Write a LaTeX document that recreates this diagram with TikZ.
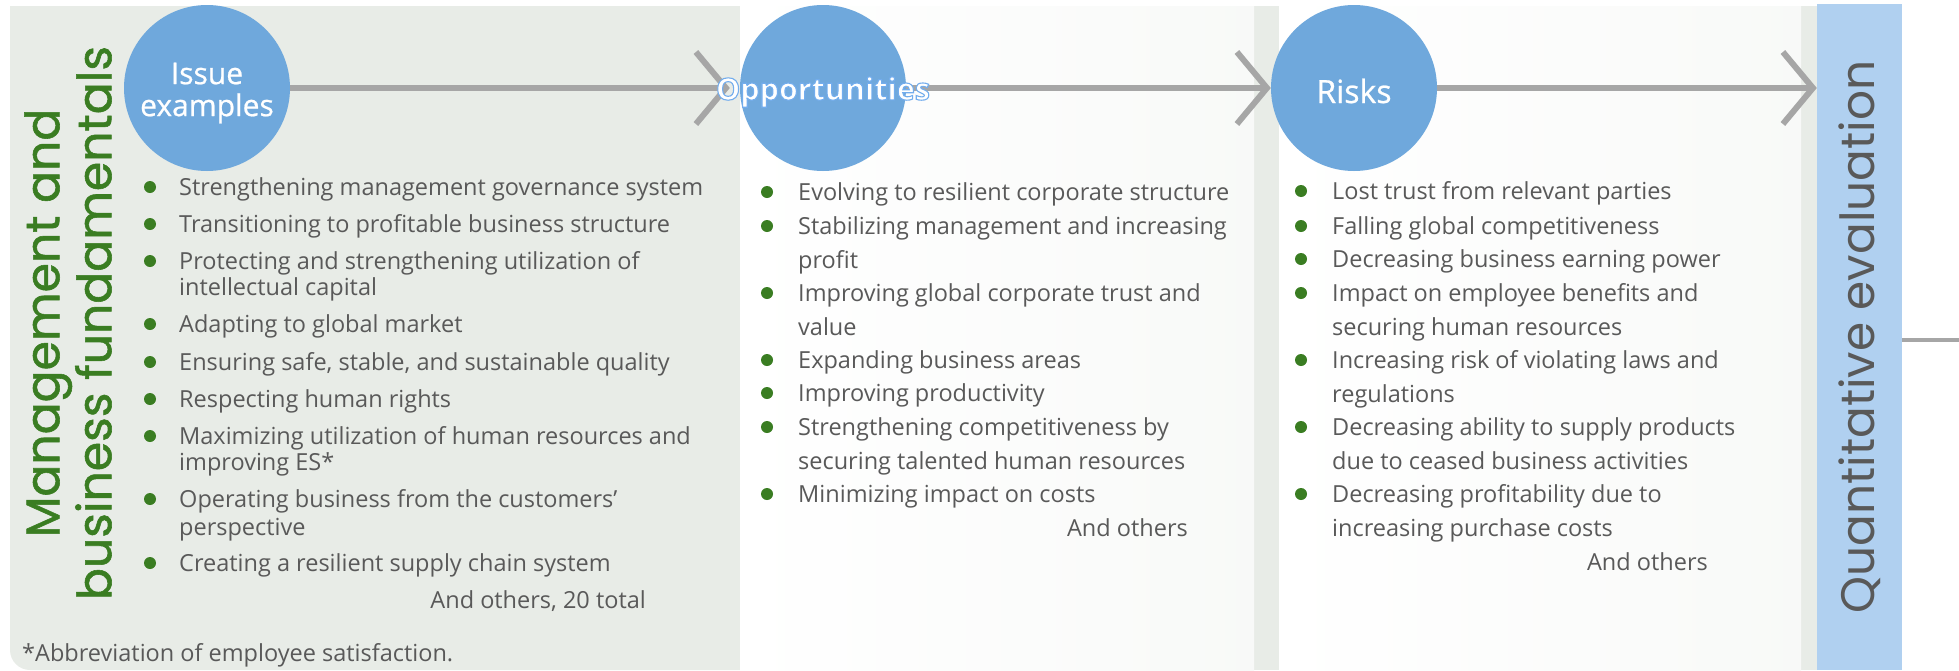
\documentclass[tikz,border=0pt]{standalone}
\usepackage{fontspec}
\setmainfont{Open Sans}
\newfontfamily\titlefont{Poppins}
\newfontfamily\headfont{Poppins}[FakeBold=1.2]
\newfontfamily\bubblefont{Open Sans}[FakeBold=0.7]
\usetikzlibrary{arrows.meta}

\definecolor{panelgreen}{HTML}{E8ECE7}
\definecolor{bubbleblue}{HTML}{6FA8DC}
\definecolor{barblue}{HTML}{B0D0F0}
\definecolor{arrowgrey}{HTML}{A6A6A6}
\definecolor{textgrey}{HTML}{595959}
\definecolor{titlegreen}{HTML}{3A7D22}

\newcommand{\itemfont}{\fontsize{23.5}{28}\selectfont}
% white letters with a blue rim
\newcommand{\rimtext}[1]{\special{pdf:code q 2 Tr 1.1 w 0.45 0.68 0.93 RG}#1\special{pdf:code Q}}

\tikzset{
  bubble/.style={circle, fill=bubbleblue, minimum size=166, inner sep=0},
  bubbletext/.style={inner sep=0, text=white, align=center},
  item/.style={anchor=west, inner sep=0, text height=19, text depth=3, text=textgrey, font=\itemfont},
  dot/.style={fill=titlegreen},
  link/.style={draw=arrowgrey, line width=6pt},
}

\begin{document}
\begin{tikzpicture}[x=1pt, y=-1pt, >={Straight Barb[length=30pt,width=72pt]}]
  \useasboundingbox (0,0) rectangle (1959,670);

  % background panels
  \fill[panelgreen] (740,6) -- (10,6) -- (10,650) .. controls (10,661) and (19,670) .. (30,670) -- (740,670) -- cycle;
  \fill[panelgreen] (740,6) rectangle (1817,670);
  \shade[left color=white, middle color=panelgreen, right color=white!70!panelgreen] (740,6) rectangle (1254,670);
  \shade[left color=white, middle color=panelgreen, right color=white!70!panelgreen] (1279,6) rectangle (1801,670);
  \node[fill=barblue, minimum width=85, minimum height=666, inner sep=0, text=textgrey,
        font=\titlefont\fontsize{47}{50}\selectfont] (quant) at (1859.5,337)
        {\rotatebox{90}{Quantitative evaluation}};

  \node[rotate=90, align=center, inner sep=0, text=titlegreen,
        font=\headfont\fontsize{47.3}{52}\selectfont] (title) at (68,323)
        {Management and\\business fundamentals};

  % stages
  \node[bubble] (issue) at (207,88) {};
  \node[bubble] (opp) at (823,88) {};
  \node[bubble] (risks) at (1354,88) {};

  \path[->, link]
  (issue) edge [shorten >=10pt] (opp)
  (opp) edge (risks)
  (risks) edge (risks -| quant.west)
  ;
  \node[bubbletext, font=\bubblefont\fontsize{30}{32}\selectfont] (issuelabel) at (207,93) {Issue\\examples};
  \node[bubbletext, font=\bfseries\fontsize{30.5}{36}\selectfont] (opplabel) at (823,92) {\rimtext{Opportunities}};
  \node[bubbletext, font=\bubblefont\fontsize{32}{36}\selectfont] (riskslabel) at (1354,91) {Risks};

  \coordinate (exit) at (1959,340);
  \draw[arrowgrey, line width=4pt] (quant.east |- exit) -- (exit);

  % issue examples
  \foreach \y/\txt [count=\n] in {187/Strengthening management governance system,
      224/Transitioning to profitable business structure,
      261/Protecting and strengthening utilization of,
      324/Adapting to global market,
      362/{Ensuring safe, stable, and sustainable quality},
      399/Respecting human rights,
      436/Maximizing utilization of human resources and,
      499/Operating business from the customers’,
      563/Creating a resilient supply chain system}
  {
    \fill[dot] (150,\y) circle (6);
    \node[item] (iss-\n) at (179,\y) {\txt};
  }
  \foreach \y/\txt [count=\n] in {287/intellectual capital, 462/improving ES*, 527/perspective}
    \node[item] (issx-\n) at (179,\y) {\txt};
  \node[item, anchor=east] (issmore) at (646,600) {And others, 20 total};
  \node[item] (note) at (22,653) {*Abbreviation of employee satisfaction.};

  % opportunities
  \foreach \y/\txt [count=\n] in {192/Evolving to resilient corporate structure,
      226/Stabilizing management and increasing,
      293/Improving global corporate trust and,
      360/Expanding business areas,
      393/Improving productivity,
      427/Strengthening competitiveness by,
      494/Minimizing impact on costs}
  {
    \fill[dot] (767,\y) circle (6);
    \node[item] (opp-\n) at (798,\y) {\txt};
  }
  \foreach \y/\txt [count=\n] in {260/profit, 327/value, 461/securing talented human resources}
    \node[item] (oppx-\n) at (798,\y) {\txt};
  \node[item, anchor=east] (oppmore) at (1188,528) {And others};

  % risks
  \foreach \y/\txt [count=\n] in {191/Lost trust from relevant parties,
      226/Falling global competitiveness,
      259/Decreasing business earning power,
      293/Impact on employee benefits and,
      360/Increasing risk of violating laws and,
      427/Decreasing ability to supply products,
      494/Decreasing profitability due to}
  {
    \fill[dot] (1301,\y) circle (6);
    \node[item] (risk-\n) at (1332,\y) {\txt};
  }
  \foreach \y/\txt [count=\n] in {327/securing human resources, 394/regulations,
      461/due to ceased business activities, 528/increasing purchase costs}
    \node[item] (riskx-\n) at (1332,\y) {\txt};
  \node[item, anchor=east] (riskmore) at (1708,562) {And others};
\end{tikzpicture}
\end{document}
